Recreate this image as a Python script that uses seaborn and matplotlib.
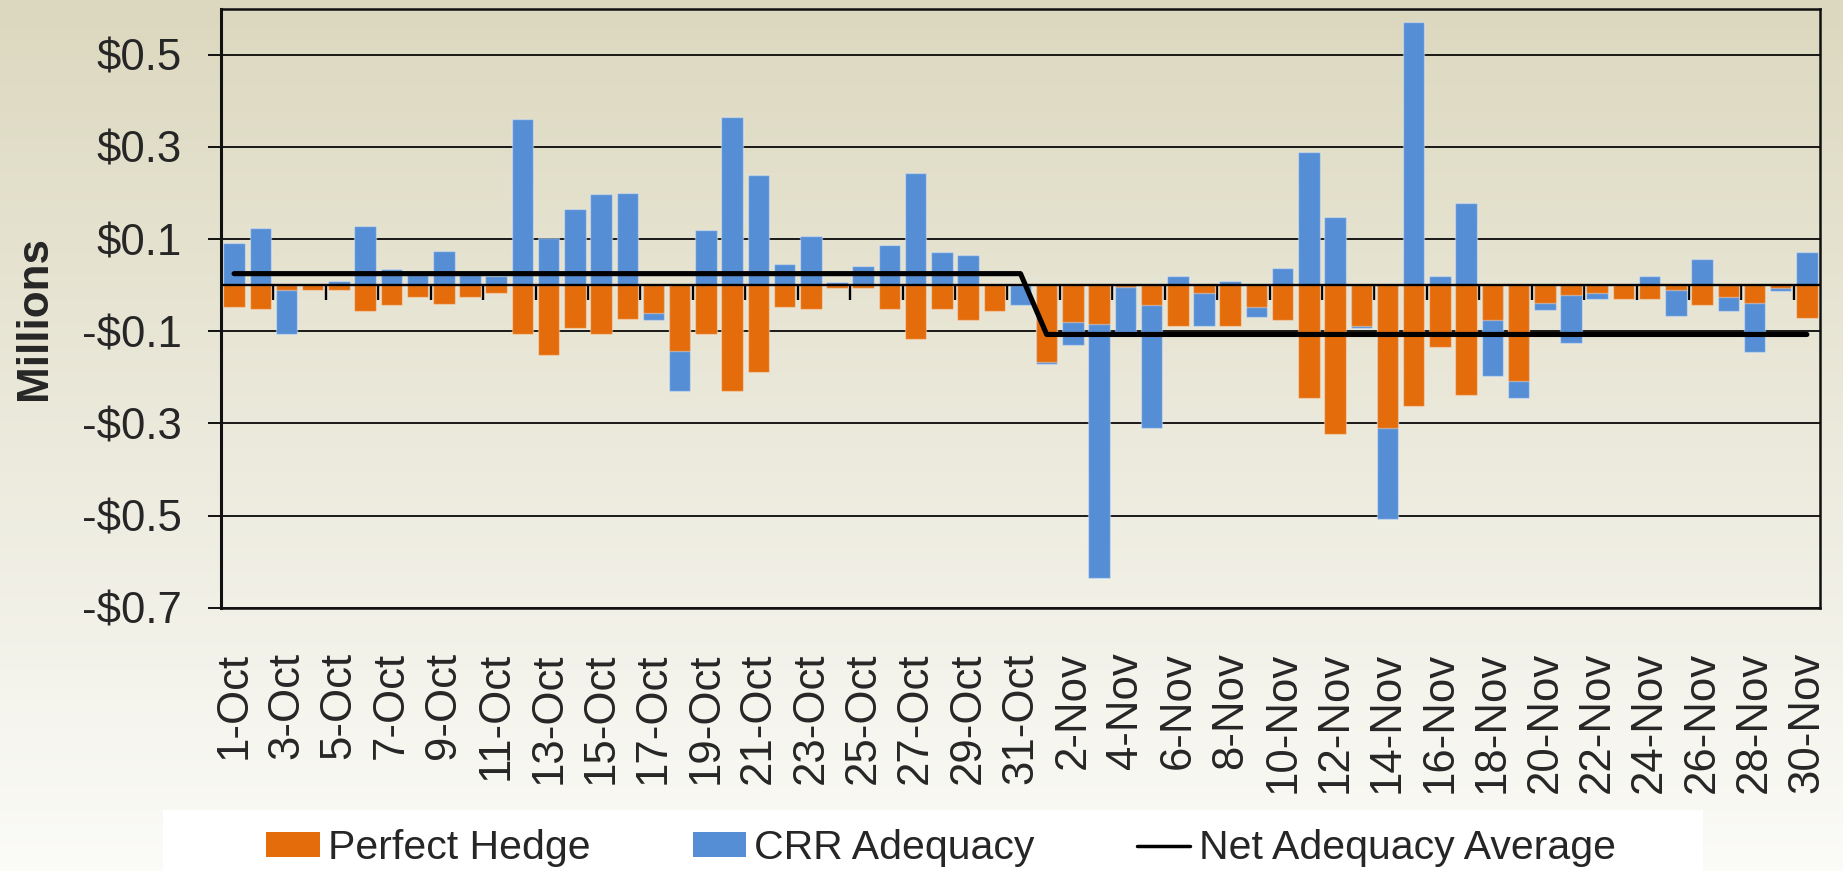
import numpy as np
import pandas as pd
import matplotlib
matplotlib.use("Agg")
import matplotlib.pyplot as plt
import seaborn as sns
from matplotlib.patches import Patch, Rectangle
from matplotlib.lines import Line2D

# daily values, $ millions
oct_days = [f"{d}-Oct" for d in range(1, 32)]
nov_days = [f"{d}-Nov" for d in range(1, 31)]
days = oct_days + nov_days

perfect_hedge = [
    -0.048, -0.052, -0.011, -0.011, -0.011, -0.057, -0.044, -0.025, -0.040, -0.025,
    -0.016, -0.107, -0.152, -0.093, -0.107, -0.074, -0.061, -0.143, -0.107, -0.230,
    -0.188, -0.048, -0.052, -0.007, -0.007, -0.052, -0.116, -0.052, -0.075, -0.057,
    0.000,
    -0.167, -0.080, -0.084, -0.005, -0.043, -0.089, -0.016, -0.089, -0.047, -0.075,
    -0.244, -0.322, -0.089, -0.311, -0.262, -0.135, -0.238, -0.075, -0.207, -0.039,
    -0.021, -0.016, -0.030, -0.030, -0.011, -0.043, -0.025, -0.039, -0.006, -0.071,
]
crr_adequacy = [
    0.092, 0.124, -0.095, 0.000, 0.010, 0.129, 0.034, 0.022, 0.074, 0.022,
    0.020, 0.361, 0.102, 0.165, 0.197, 0.201, -0.014, -0.087, 0.120, 0.366,
    0.238, 0.046, 0.107, 0.006, 0.042, 0.088, 0.243, 0.071, 0.065, 0.002,
    -0.043,
    -0.004, -0.050, -0.552, -0.097, -0.268, 0.019, -0.073, 0.010, -0.023, 0.038,
    0.288, 0.147, -0.004, -0.196, 0.571, 0.020, 0.179, -0.123, -0.037, -0.014,
    -0.105, -0.014, 0.002, 0.020, -0.055, 0.056, -0.032, -0.105, -0.006, 0.071,
]
oct_avg = 0.025
nov_avg = -0.107
net_avg = [oct_avg] * len(oct_days) + [nov_avg] * len(nov_days)

ytick_vals = [0.5, 0.3, 0.1, -0.1, -0.3, -0.5, -0.7]
ytick_labels = ["$0.5", "$0.3", "$0.1", "-$0.1", "-$0.3", "-$0.5", "-$0.7"]

ORANGE = "#E46C0A"
BLUE = "#558ED5"

df = pd.DataFrame({"day": days, "hedge": perfect_hedge, "crr": crr_adequacy})
# negative CRR stacks below the hedge bar, positive CRR sits above zero
df["crr_end"] = np.where(df["crr"] < 0, df["hedge"] + df["crr"], df["crr"])

sns.set_style("white")
plt.rcParams["font.family"] = ["Liberation Sans", "DejaVu Sans"]

fig = plt.figure(figsize=(18.43, 8.71), dpi=100)

# background gradient
bg = fig.add_axes([0, 0, 1, 1], zorder=-10)
top_c = np.array([220, 216, 191]) / 255
bot_c = np.array([251, 251, 248]) / 255
t = np.linspace(0, 1, 256)[:, None]
grad = (top_c * (1 - t) + bot_c * t)[:, None, :]
bg.imshow(grad, aspect="auto", extent=[0, 1, 0, 1])
bg.add_patch(Rectangle((163 / 1843, 0), 1540 / 1843, 61 / 871, color="white", lw=0))
bg.set_xlim(0, 1)
bg.set_ylim(0, 1)
bg.axis("off")

ax = fig.add_axes([221 / 1843, 1 - 607.7 / 871, 1599 / 1843, 599 / 871])
ax.set_facecolor("none")

sns.barplot(data=df, x="day", y="crr_end", color=BLUE, saturation=1, width=0.82,
            edgecolor=(1, 1, 1, 0.35), linewidth=1, ax=ax, zorder=2)
sns.barplot(data=df, x="day", y="hedge", color=ORANGE, saturation=1, width=0.82,
            edgecolor=(1, 1, 1, 0.35), linewidth=1, ax=ax, zorder=3)
sns.lineplot(x=np.arange(len(days)), y=net_avg, color="black", lw=3.7, ax=ax, zorder=5)

ax.set_xlim(-0.5, len(days) - 0.5)
ax.set_ylim(-0.7, 0.6)
ax.axhline(0, color="black", lw=1.7, zorder=4)

ax.set_yticks(ytick_vals, ytick_labels)
ax.grid(axis="y", color="black", lw=1.25, zorder=0)
ax.set_axisbelow(True)
ax.tick_params(axis="y", direction="out", length=9.5, width=1.3, pad=19,
               labelsize=31.5, left=True, color="black")

ax.set_xticks(range(0, len(days), 2), days[::2])
ax.tick_params(axis="x", length=0, pad=32, labelsize=31.5, labelrotation=90)
ax.set_xlabel("")

ax.set_ylabel("Millions", fontsize=31.7, fontweight="bold")
ax.yaxis.set_label_coords(-0.104, 0.484)

for s in ax.spines.values():
    s.set_visible(True)
    s.set_color("#111111")
    s.set_linewidth(1.8)
ax.spines["left"].set_linewidth(2.2)

# tick marks on the zero line between every second day
zero_frac = 0.7 / 1.3
sec = ax.secondary_xaxis(zero_frac)
sec.set_xticks(np.arange(1.5, len(days) - 1, 2))
sec.xaxis.set_ticks_position("bottom")
sec.tick_params(axis="x", direction="out", length=11, width=1.7, color="black",
                labelbottom=False, labeltop=False)
for s in sec.spines.values():
    s.set_visible(False)

handles = [
    Patch(facecolor=ORANGE, edgecolor="none"),
    Patch(facecolor=BLUE, edgecolor="none"),
    Line2D([0], [0], color="black", lw=2.5),
]
fig.legend(handles, ["Perfect Hedge", "CRR Adequacy", "Net Adequacy Average"],
           loc="center", bbox_to_anchor=(0.5106, 0.0264), ncol=3, frameon=False,
           fontsize=29.5, handlelength=1.3, handleheight=0.55, handletextpad=0.2,
           columnspacing=2.5)

fig.savefig("out.png", dpi=100)
plt.close(fig)
